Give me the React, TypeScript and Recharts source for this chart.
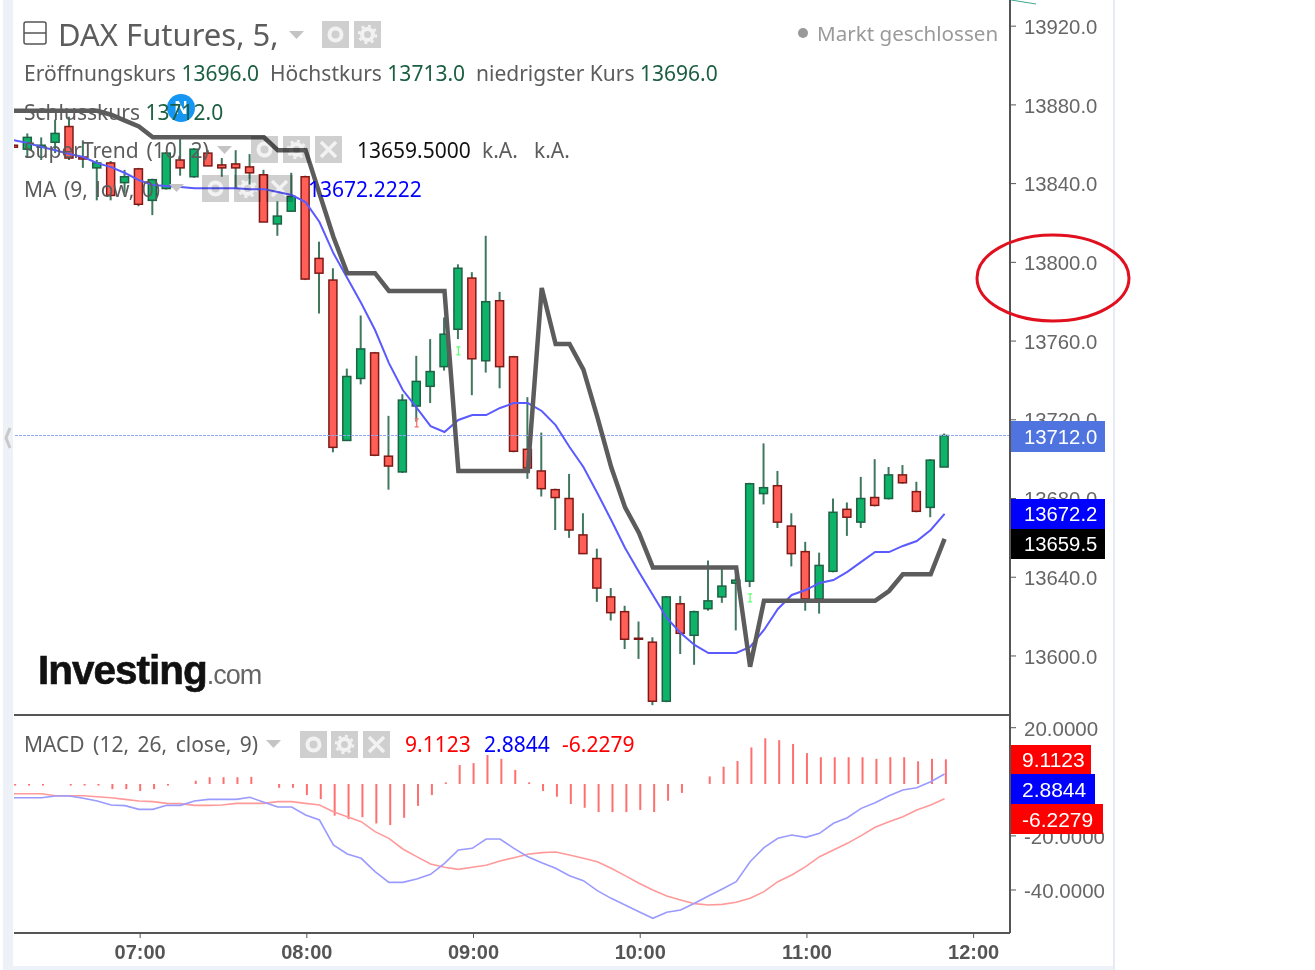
import React from 'react';
import {
  ComposedChart,
  Bar,
  Line,
  XAxis,
  YAxis,
  ReferenceLine,
  ReferenceDot,
} from 'recharts';

// one row per 5 minute bar, first bar is 06:15
const FIRST_BAR_MINUTE = 375;

const opens = [13859.5, 13857.5, 13858.5, 13861, 13869, 13853.5, 13848, 13850.5, 13840.5, 13847.5, 13831.5, 13837.5, 13852, 13843.5, 13855.5, 13849.5, 13850, 13848.5, 13844.5, 13819.5, 13826, 13843.5, 13802, 13791, 13709.5, 13741, 13754, 13701.5, 13693.5, 13727, 13737, 13747, 13766, 13792, 13750, 13780.5, 13752, 13705, 13694, 13684.5, 13680, 13661.5, 13649.5, 13630, 13622.5, 13609, 13607, 13577, 13626.5, 13610.5, 13624, 13630, 13637, 13638, 13682.5, 13686.5, 13666, 13653, 13629, 13643, 13674.5, 13668, 13680.5, 13680, 13692, 13683.5, 13675.5, 13696];
const highs = [13860, 13865.5, 13863.5, 13872.5, 13874, 13862, 13852, 13851.5, 13847, 13848, 13842.5, 13856, 13863.5, 13858, 13857, 13853, 13857, 13855, 13847, 13831, 13845.5, 13844, 13810.5, 13797, 13746, 13773, 13754.5, 13722, 13733, 13752.5, 13761, 13772, 13799, 13795, 13813.5, 13785, 13752.5, 13731.5, 13713.5, 13685, 13692.5, 13672.5, 13654.5, 13634.5, 13625.5, 13617.5, 13609.5, 13630.5, 13630.5, 13623, 13648.5, 13644.5, 13644.5, 13688, 13708, 13694, 13672.5, 13658, 13652.5, 13680, 13678, 13691, 13700, 13696, 13697, 13688.5, 13700, 13713];
const lows = [13858.5, 13853, 13852, 13855.5, 13852, 13848, 13831.5, 13831.5, 13835, 13828.5, 13824, 13837, 13844, 13843, 13849, 13843.5, 13837.5, 13839.5, 13820.5, 13813.5, 13826, 13791, 13774, 13703.5, 13709.5, 13738, 13701.5, 13684.5, 13693, 13719, 13728.5, 13745, 13761, 13732.5, 13744, 13736, 13703.5, 13690, 13681, 13664, 13660, 13652, 13627.5, 13618, 13603.5, 13598.5, 13575, 13576.5, 13601, 13595.5, 13623, 13627, 13613, 13635, 13677, 13665, 13645.5, 13623, 13621.5, 13642.5, 13661, 13665, 13676, 13679.5, 13687.5, 13673, 13670.5, 13696];
const closes = [13858.5, 13863.5, 13859.5, 13865.5, 13853, 13852.5, 13850.5, 13834, 13843.5, 13829.5, 13842, 13855.5, 13848, 13857.5, 13849, 13848, 13848, 13845.5, 13820.5, 13823.5, 13833.5, 13791.5, 13794.5, 13706, 13742, 13756, 13702, 13696.5, 13730, 13739.5, 13744.5, 13763.5, 13797, 13751, 13780, 13747, 13704, 13695.5, 13685, 13680.5, 13664, 13652, 13634.5, 13622, 13608.5, 13608.5, 13577, 13630, 13611.5, 13622.5, 13628, 13635.5, 13638.5, 13687.5, 13685.5, 13668, 13652, 13629, 13646, 13673, 13670.5, 13680, 13676.5, 13692, 13688, 13673.5, 13699.5, 13712];

const superTrend = [13877, 13877, 13877, 13877, 13877, 13877, 13877, 13875, 13872, 13869, 13863.5, 13863.5, 13863.5, 13863.5, 13863.5, 13863.5, 13863.5, 13863.5, 13863.5, 13857, 13857, 13857, 13835, 13813, 13794.5, 13794.5, 13794.5, 13785.5, 13785.5, 13785.5, 13785.5, 13785.5, 13694, 13694, 13694, 13694, 13694, 13694, 13787, 13758.5, 13758.5, 13745.5, 13721.5, 13696, 13675.5, 13662.5, 13645, 13645, 13645, 13645, 13645, 13645, 13645, 13594.5, 13628, 13628, 13628, 13628, 13628, 13628, 13628, 13628, 13628, 13633, 13641.5, 13641.5, 13641.5, 13659.5];
const movingAverage = [13862.1, 13860.6, 13858.6, 13857, 13855, 13853.5, 13850.4, 13848.4, 13845.4, 13841.8, 13839.3, 13838.8, 13838.3, 13837.7, 13837.7, 13837.7, 13837.7, 13837.2, 13837.2, 13835.7, 13834.2, 13830.6, 13820.5, 13804.7, 13792, 13779.3, 13765.6, 13748.8, 13735.1, 13726, 13716.8, 13713.8, 13719.9, 13722.4, 13722.4, 13726, 13728.5, 13728.5, 13724.5, 13717.3, 13706.2, 13696, 13682.8, 13669.1, 13654.9, 13642.7, 13631, 13619.3, 13611.7, 13605.6, 13601.5, 13601.5, 13601.5, 13604.6, 13613.2, 13623.9, 13631, 13633.5, 13637.1, 13638.6, 13642.7, 13647.8, 13652.8, 13652.8, 13655.9, 13658.4, 13664, 13672.2];

const macdLine = [-5.87, -5.87, -5.87, -5.25, -5.25, -6.11, -7.1, -8.58, -8.82, -10.18, -10.18, -8.7, -8.7, -7.1, -6.48, -6.48, -6.48, -5.74, -7.59, -9.32, -9.32, -12.27, -14.12, -23.36, -26.69, -28.29, -33.22, -37.17, -37.17, -35.93, -34.21, -30.14, -25.21, -24.6, -21.15, -21.15, -24.6, -27.68, -29.89, -31.99, -34.7, -36.55, -40.25, -43.08, -45.55, -48.01, -50.47, -48.26, -47.39, -44.93, -42.22, -39.63, -36.92, -29.53, -24.35, -20.9, -19.67, -20.53, -19.05, -15.35, -13.26, -9.81, -7.71, -5.13, -3.03, -2.17, 0.05, 2.8844];
const signalLine = [-4.39, -4.39, -4.39, -5.13, -5.13, -5.13, -5.5, -5.87, -6.48, -7.1, -7.34, -7.96, -8.08, -8.7, -8.7, -8.58, -7.96, -7.96, -7.96, -7.34, -7.34, -7.96, -8.58, -11.04, -12.89, -14.74, -18.44, -20.9, -24.84, -27.68, -30.39, -31.62, -32.36, -31.62, -30.88, -29.28, -28.05, -26.81, -26.2, -25.95, -27.06, -28.29, -29.53, -31.99, -34.7, -37.53, -39.99, -42.22, -43.69, -45.05, -45.55, -45.3, -44.56, -43.08, -40.62, -36.92, -34.46, -31.37, -27.68, -25.21, -22.75, -19.91, -16.83, -14.74, -12.89, -10.43, -8.58, -6.2279];
const histogram = [-0.6, -0.6, -0.6, 0, -0.6, -0.6, -0.6, -1.9, -1.9, -2.6, -1.9, -0.6, 0, 1.2, 2.5, 2.5, 2.5, 2.6, 0, -1.4, -1.4, -4.1, -5.6, -11.7, -13, -12.3, -14.6, -15.2, -12.5, -8.1, -4.1, 0.6, 7, 7.7, 10.7, 9.3, 5.2, 0.6, -2.6, -4.7, -7.4, -8.8, -10.4, -10.4, -10.4, -9.6, -10.4, -6.2, -3.3, 0, 2.8, 6.4, 8.5, 13.5, 16.9, 16.2, 14.8, 11.4, 9.9, 9.9, 9.9, 9.9, 9.3, 9.9, 9.9, 8.4, 9.3, 9.1123];

const priceTicks = [13600, 13640, 13680, 13720, 13760, 13800, 13840, 13880, 13920];
const macdTicks = [-40, -20, 0, 20];
const timeTicks = [420, 480, 540, 600, 660, 720];
const lastPrice = 13712;
const upMarks = [{ minute: 535, price: 13755 }, { minute: 640, price: 13629.5 }];
const downMarks = [{ minute: 520, price: 13718.4 }];

const tableData = opens.map((open, i) => ({
  minute: FIRST_BAR_MINUTE + i * 5,
  open,
  high: highs[i],
  low: lows[i],
  close: closes[i],
  superTrend: superTrend[i],
  ma: movingAverage[i],
  macd: macdLine[i],
  signal: signalLine[i],
  hist: histogram[i],
}));

const GREEN = '#0db368';
const GREEN_DARK = '#1f6144';
const RED = '#ff5f56';
const RED_DARK = '#7d1a16';
const AXIS = '#555';
const LABEL = '#5c5c5c';
const VALUE = '#1b5e40';
const SANS = '"Noto Sans", sans-serif';
const AXIS_FONT = '"Liberation Sans", Arial, sans-serif';

const xDomain: [number, number] = [374.6, 733.1];
// candles and lines sit a little left of the time ticks
const seriesDomain: [number, number] = [375.05, 733.55];

const Candle = (props: any) => {
  const { x, y, width, height, payload } = props;
  const { open, close, high, low } = payload;
  const pxPerUnit = height / (high - low);
  const up = close >= open;
  const cx = x + width / 2;
  const bodyTop = y + (high - Math.max(open, close)) * pxPerUnit;
  const bodyH = Math.max(Math.abs(open - close) * pxPerUnit, 1);
  return (
    <g>
      <line x1={cx} x2={cx} y1={y} y2={y + height} stroke={GREEN_DARK} strokeWidth={2} opacity={0.85} />
      <rect
        x={x + 0.5}
        y={bodyTop}
        width={width - 1}
        height={bodyH}
        fill={up ? GREEN : RED}
        stroke={up ? GREEN_DARK : RED_DARK}
        strokeWidth={1.5}
      />
    </g>
  );
};

const Arrow = (color: string) => (props: any) => {
  const { cx, cy } = props;
  return (
    <path
      d={`M${cx - 2} ${cy - 4}H${cx + 2}M${cx} ${cy - 4}V${cy + 4}M${cx - 2} ${cy + 4}H${cx + 2}`}
      stroke={color}
      strokeWidth={1.2}
      fill="none"
    />
  );
};

const T = ({ x, y, size = 21, color = LABEL, children, words = 0 }: any) => (
  <div
    style={{
      position: 'absolute',
      left: x,
      top: y,
      transform: 'translateY(-50%)',
      fontSize: size,
      color,
      fontFamily: SANS,
      wordSpacing: words,
      whiteSpace: 'pre',
      lineHeight: 1,
    }}
  >
    {children}
  </div>
);

const Badge = ({ top, height, width, bg, size = 20.3, pad = 13, children }: any) => (
  <div
    style={{
      position: 'absolute',
      left: 1011,
      top,
      width,
      height,
      background: bg,
      color: '#fff',
      fontFamily: AXIS_FONT,
      fontSize: size,
      lineHeight: `${height + 1}px`,
      paddingLeft: pad,
      boxSizing: 'border-box',
    }}
  >
    {children}
  </div>
);

// multiply so the chart stays visible through the buttons, as in the widget
const IconBox = ({ x, y, kind }: any) => (
  <svg style={{ position: 'absolute', left: x, top: y, mixBlendMode: 'multiply' }} width={27} height={27}>
    <rect width={27} height={27} fill="#cfcfcf" />
    {kind === 'eye' && <circle cx={13.5} cy={13.5} r={6} fill="none" stroke="#f2f2f2" strokeWidth={4} />}
    {kind === 'gear' && (
      <g>
        <circle cx={13.5} cy={13.5} r={5.5} fill="none" stroke="#f2f2f2" strokeWidth={4} />
        <circle cx={13.5} cy={13.5} r={8.5} fill="none" stroke="#f2f2f2" strokeWidth={2.5} strokeDasharray="3 3.7" />
      </g>
    )}
    {kind === 'x' && <path d="M6 6L21 21M21 6L6 21" stroke="#f2f2f2" strokeWidth={3.5} />}
  </svg>
);

const Caret = ({ x, y }: any) => (
  <svg style={{ position: 'absolute', left: x, top: y }} width={16} height={9}>
    <path d="M0 0H15L7.5 8Z" fill="#c4c4c4" />
  </svg>
);

export default function App() {
  return (
    <div style={{ position: 'absolute', left: 0, top: 0, width: 1315, height: 970, overflow: 'hidden', background: '#fff' }}>
      {/* pale page frame around the widget */}
      <div style={{ position: 'absolute', left: 3, top: 0, width: 10, height: 970, background: '#edf1f8' }} />
      <div style={{ position: 'absolute', left: 3, top: 966, width: 1112, height: 4, background: '#edf1f8' }} />
      <div style={{ position: 'absolute', left: 1113, top: 0, width: 2, height: 970, background: '#e6ebf5' }} />

      <div style={{ position: 'absolute', left: 14, top: 0 }}>
        <ComposedChart width={1099} height={715} data={tableData} margin={{ top: 0, right: 0, bottom: 0, left: 0 }}>
          <XAxis dataKey="minute" type="number" domain={seriesDomain} allowDataOverflow hide ticks={timeTicks} />
          <YAxis
            orientation="right"
            width={103}
            domain={[13570, 13933.3]}
            allowDataOverflow
            ticks={priceTicks}
            interval={0}
            tick={{ fill: '#666', fontSize: 20.3, fontFamily: AXIS_FONT, dy: 0.5 }}
            tickFormatter={(v: number) => v.toFixed(1)}
            tickSize={6}
            tickMargin={8}
            tickLine={{ stroke: AXIS }}
            axisLine={{ stroke: AXIS, strokeWidth: 2 }}
          />
          <ReferenceLine y={lastPrice} stroke="#8fa8f5" strokeDasharray="3 1" strokeWidth={1} />
          <Bar dataKey={(d: any) => [d.low, d.high]} barSize={9} shape={<Candle />} isAnimationActive={false} />
          <Line dataKey="ma" stroke="#5a5aff" strokeWidth={2} dot={false} isAnimationActive={false} />
          <Line
            dataKey="superTrend"
            stroke="#5c5c5c"
            strokeWidth={4.5}
            strokeLinejoin="miter"
            dot={false}
            isAnimationActive={false}
          />
          {upMarks.map((m) => (
            <ReferenceDot key={m.minute} x={m.minute} y={m.price} r={1} shape={Arrow('#5dff6a')} />
          ))}
          {downMarks.map((m) => (
            <ReferenceDot key={m.minute} x={m.minute} y={m.price} r={1} shape={Arrow('#ff6a6a')} />
          ))}
        </ComposedChart>
      </div>

      <div style={{ position: 'absolute', left: 14, top: 714, width: 997, height: 2, background: AXIS }} />

      <div style={{ position: 'absolute', left: 14, top: 715 }}>
        <ComposedChart width={1099} height={251} data={tableData} margin={{ top: 0, right: 0, bottom: 0, left: 0 }}>
          <XAxis
            dataKey="minute"
            type="number"
            domain={xDomain}
            allowDataOverflow
            ticks={timeTicks}
            interval={0}
            height={33}
            tick={{ fill: '#555', fontSize: 20, fontWeight: 700, fontFamily: AXIS_FONT, dy: 4 }}
            tickFormatter={(m: number) => `${String(Math.floor(m / 60)).padStart(2, '0')}:00`}
            tickSize={5}
            tickMargin={3}
            tickLine={{ stroke: AXIS }}
            axisLine={{ stroke: AXIS, strokeWidth: 2 }}
          />
          <XAxis xAxisId="lines" dataKey="minute" type="number" domain={seriesDomain} allowDataOverflow hide />
          <YAxis
            yAxisId="macd"
            orientation="right"
            width={103}
            domain={[-55.9, 24.7]}
            allowDataOverflow
            ticks={macdTicks}
            interval={0}
            tick={{ fill: '#666', fontSize: 20.5, fontFamily: AXIS_FONT, dy: 1 }}
            tickFormatter={(v: number) => v.toFixed(4)}
            tickSize={6}
            tickMargin={8}
            tickLine={{ stroke: AXIS }}
            axisLine={{ stroke: AXIS, strokeWidth: 2 }}
          />
          <YAxis yAxisId="hist" hide domain={[-55.1, 25.5]} allowDataOverflow />
          <Bar yAxisId="hist" dataKey="hist" barSize={2} fill="#ff6f6f" isAnimationActive={false} />
          <Line xAxisId="lines" yAxisId="macd" dataKey="signal" stroke="#ff9a9a" strokeWidth={1.6} dot={false} isAnimationActive={false} />
          <Line xAxisId="lines" yAxisId="macd" dataKey="macd" stroke="#9a9aff" strokeWidth={1.6} dot={false} isAnimationActive={false} />
        </ComposedChart>
      </div>

      {/* price badges on the right axis */}
      <Badge top={421} height={31} width={94} bg="#4f74e0">13712.0</Badge>
      <Badge top={499} height={30} width={94} bg="#0000ff">13672.2</Badge>
      <Badge top={529} height={30} width={94} bg="#000">13659.5</Badge>
      <Badge top={745} height={29} width={80} bg="#ff0000" size={21} pad={11}>9.1123</Badge>
      <Badge top={774} height={30} width={84} bg="#0000ff" size={21} pad={11}>2.8844</Badge>
      <Badge top={804} height={30} width={92} bg="#ff0000" size={21} pad={11}>-6.2279</Badge>

      {/* chart legend */}
      <svg style={{ position: 'absolute', left: 23, top: 21 }} width={25} height={24}>
        <rect x={1} y={1} width={22} height={22} rx={2} fill="none" stroke="#555" strokeWidth={1.5} />
        <line x1={1} x2={23} y1={12} y2={12} stroke="#555" strokeWidth={1.5} />
      </svg>
      <T x={58} y={34} size={31}>DAX Futures, 5,</T>
      <Caret x={289} y={31} />
      <IconBox x={322} y={21} kind="eye" />
      <IconBox x={354} y={21} kind="gear" />
      <svg style={{ position: 'absolute', left: 797, top: 27 }} width={12} height={12}>
        <circle cx={6} cy={6} r={5} fill="#999" />
      </svg>
      <T x={817} y={33} size={20.6} color="#9a9a9a">Markt geschlossen</T>

      <T x={24} y={73}>Eröffnungskurs <span style={{ color: VALUE }}>13696.0</span>  Höchstkurs <span style={{ color: VALUE }}>13713.0</span>  niedrigster Kurs <span style={{ color: VALUE }}>13696.0</span></T>
      <div style={{ position: 'absolute', left: 167, top: 94, width: 28, height: 28, borderRadius: 14, background: '#1496f2', color: '#fff', fontFamily: AXIS_FONT, fontWeight: 700, fontSize: 18, lineHeight: '28px', textAlign: 'center' }}>N</div>
      <T x={24} y={112}>Schlusskurs <span style={{ color: VALUE }}>13712.0</span></T>

      <T x={24} y={150} words={2.5}>SuperTrend (10, 2)</T>
      <Caret x={217} y={146} />
      <IconBox x={251} y={136} kind="eye" />
      <IconBox x={283} y={136} kind="gear" />
      <IconBox x={315} y={136} kind="x" />
      <T x={357} y={150} color="#111">13659.5000</T>
      <T x={482} y={150}>k.A.</T>
      <T x={534} y={150}>k.A.</T>

      <T x={24} y={189} words={2}>MA (9, low, 0)</T>
      <Caret x={169} y={184} />
      <IconBox x={202} y={175} kind="eye" />
      <IconBox x={234} y={175} kind="gear" />
      <IconBox x={266} y={175} kind="x" />
      <T x={308} y={189} color="#0000ff">13672.2222</T>

      <T x={24} y={744} words={3}>MACD (12, 26, close, 9)</T>
      <Caret x={266} y={740} />
      <IconBox x={300} y={731} kind="eye" />
      <IconBox x={331} y={731} kind="gear" />
      <IconBox x={363} y={731} kind="x" />
      <T x={405} y={744} color="#ff0000">9.1123</T>
      <T x={484} y={744} color="#0000ff">2.8844</T>
      <T x={562} y={744} color="#ff0000">-6.2279</T>

      {/* watermark */}
      <div style={{ position: 'absolute', left: 38, top: 648, whiteSpace: 'pre', lineHeight: '44px', fontFamily: AXIS_FONT }}>
        <span style={{ fontSize: 40.5, fontWeight: 700, color: '#111', letterSpacing: -1, WebkitTextStroke: '0.6px #111' }}>Investing</span>
        <span style={{ fontSize: 27, color: '#666', letterSpacing: -1 }}>.com</span>
      </div>

      {/* hand drawn circle from the screenshot and stray line at the top */}
      <svg style={{ position: 'absolute', left: 0, top: 0 }} width={1315} height={970}>
        <ellipse cx={1053} cy={278} rx={76} ry={43} fill="none" stroke="#e0101e" strokeWidth={3} />
        <line x1={1011} y1={0} x2={1036} y2={4} stroke="#3fa88c" strokeWidth={1} />
        <path d="M10 428L6 438L10 448" fill="none" stroke="#c8c8c8" strokeWidth={3} />
      </svg>
    </div>
  );
}
